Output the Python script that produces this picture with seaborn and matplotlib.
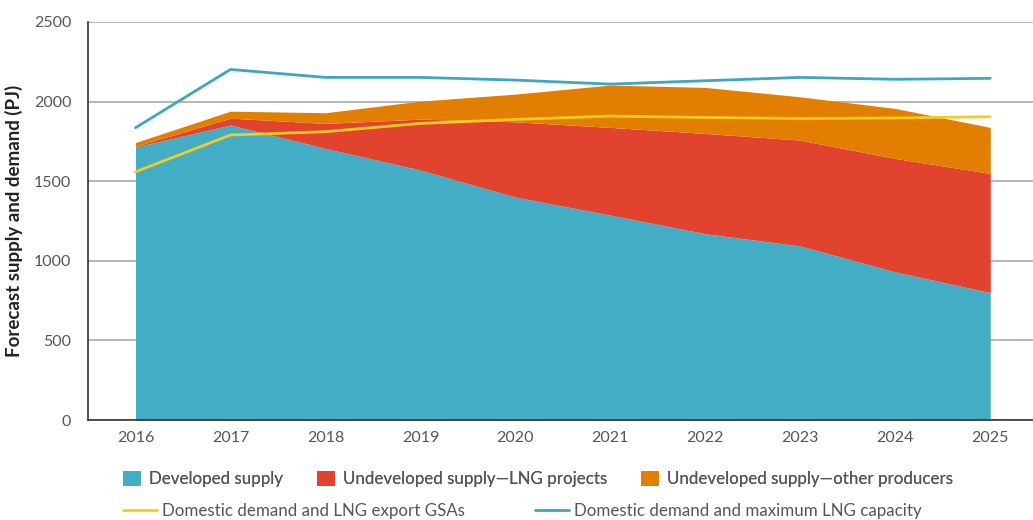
"""
Gas supply and demand forecast, 2016-2025 (stacked areas + demand lines)
"""
import numpy as np, pandas as pd
import matplotlib; matplotlib.use('Agg')
import matplotlib.pyplot as plt
from matplotlib.patches import Patch
from matplotlib.lines import Line2D
import seaborn as sns

# ── data (PJ) ────────────────────────────────────────────────
years       = [2016, 2017, 2018, 2019, 2020, 2021, 2022, 2023, 2024, 2025]
developed   = [1715, 1853, 1706, 1570, 1400, 1287, 1170, 1093, 930, 800]
undev_lng   = [5, 43, 157, 320, 473, 551, 630, 665, 713, 749]
undev_other = [23, 44, 67, 113, 174, 266, 289, 272, 314, 289]
demand_gsa  = [1559, 1790, 1811, 1863, 1888, 1909, 1900, 1894, 1897, 1905]
demand_max  = [1836, 2202, 2152, 2152, 2135, 2110, 2131, 2152, 2140, 2146]

area_labels = ['Developed supply', 'Undeveloped supply\u2014LNG projects',
               'Undeveloped supply\u2014other producers']
line_labels = ['Domestic demand and LNG export GSAs',
               'Domestic demand and maximum LNG capacity']

BLUE   = '#44adc6'
RED    = '#e1432f'
ORANGE = '#e27f00'
YELLOW = '#f3cc1f'
LBLUE  = '#3fa6bf'
GRID   = '#a9a9a9'
TXT    = '#555555'

sns.set_theme(style='white')
plt.rcParams['font.family'] = ['Lato', 'DejaVu Sans']

fig = plt.figure(figsize=(10.33, 5.2), dpi=100)
ax = fig.add_axes([0.0852, 0.1923, 0.9148, 0.7654])

ax.stackplot(years, developed, undev_lng, undev_other,
             colors=[BLUE, RED, ORANGE], linewidth=0, zorder=2)

lines = pd.DataFrame({'year': years * 2,
                      'value': demand_gsa + demand_max,
                      'series': [line_labels[0]] * len(years) + [line_labels[1]] * len(years)})
sns.lineplot(data=lines, x='year', y='value', hue='series',
             palette=[YELLOW, LBLUE], linewidth=2, legend=False, ax=ax, zorder=3)

ax.set_xlim(2015.5, 2025.45)
ax.set_ylim(0, 2500)
ax.set_yticks(range(0, 2501, 500))
ax.set_xticks(years)
ax.yaxis.grid(True, color=GRID, lw=1.2, zorder=0)
ax.set_axisbelow(True)
for s in ['top', 'right']:
    ax.spines[s].set_visible(False)
for s in ['left', 'bottom']:
    ax.spines[s].set_color('#333333')
    ax.spines[s].set_linewidth(1.2)
    ax.spines[s].set_zorder(4)
ax.tick_params(axis='x', direction='in', length=9, width=1, color='#333333',
               labelsize=11.5, labelcolor=TXT, pad=8)
ax.tick_params(axis='y', length=0, labelsize=11.5, labelcolor=TXT, pad=12)
ax.set_xlabel('')
ax.set_ylabel('Forecast supply and demand (PJ)', fontsize=13.5, fontweight='bold',
              color='#222222', labelpad=8)

# ── legend rows ──────────────────────────────────────────────
h1 = [Patch(facecolor=c, edgecolor='none') for c in [BLUE, RED, ORANGE]]
leg1 = fig.legend(h1, area_labels, ncol=3, loc='center left', frameon=False,
                  bbox_to_anchor=(0.111, 0.079), fontsize=12.2, borderpad=0,
                  handlelength=1.07, handleheight=1.0, handletextpad=0.47,
                  columnspacing=2.0, labelcolor=TXT)
h2 = [Line2D([], [], color=c, lw=2) for c in [YELLOW, LBLUE]]
fig.legend(h2, line_labels, ncol=2, loc='center left', frameon=False,
           bbox_to_anchor=(0.111, 0.017), fontsize=12.2, borderpad=0,
           handlelength=2.0, handletextpad=0.3, columnspacing=4.15,
           labelcolor=TXT)
fig.add_artist(leg1)

fig.savefig('out.png', dpi=100)
